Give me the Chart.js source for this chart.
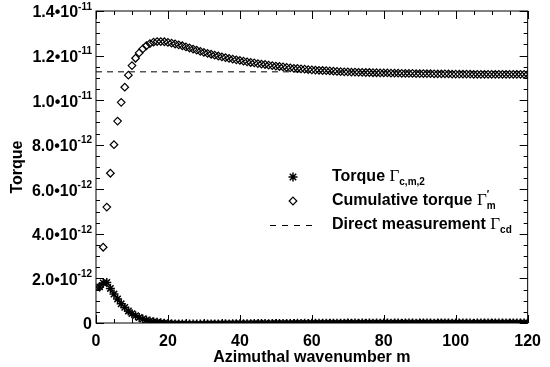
<!DOCTYPE html>
<html>
<head>
<meta charset="utf-8">
<script src="https://cdn.jsdelivr.net/npm/chart.js@4.4.1/dist/chart.umd.min.js"></script>
<style>
  body { margin: 0; background: #fff; }
  .chart-wrapper { width: 550px; height: 367px; }
</style>
</head>
<body>
<div class="chart-wrapper">
  <canvas id="chart" width="550" height="367"></canvas>
</div>
<script>
// values are in units of 1e-12, for m = 1 .. 120
const torque = [
  1.62, 1.80, 1.82, 1.55, 1.30, 1.08, 0.86, 0.70, 0.54, 0.42,
  0.33, 0.25, 0.18, 0.13, 0.09, 0.06, 0.03, 0.01, -0.01, -0.02,
  -0.03, -0.04, -0.04, -0.04, -0.05, -0.05, -0.05, -0.05, -0.05, -0.05,
  -0.04, -0.04, -0.04, -0.04, -0.04, -0.03, -0.04, -0.03, -0.03, -0.03,
  -0.03, -0.03, -0.03, -0.02, -0.03, -0.02, -0.02, -0.03, -0.02, -0.02,
  -0.02, -0.02, -0.02, -0.02, -0.02, -0.01, -0.02, -0.01, -0.02, -0.01,
  -0.01, -0.01, -0.01, -0.01, -0.01, -0.01, -0.01, -0.01, -0.01, 0.00,
  -0.01, 0.00, -0.01, 0.00, -0.01, 0.00, -0.01, 0.00, -0.01, 0.00,
  0.00, -0.01, 0.00, 0.00, -0.01, 0.00, 0.00, 0.00, -0.01, 0.00,
  0.00, 0.00, 0.00, -0.01, 0.00, 0.00, 0.00, 0.00, -0.01, 0.00,
  0.00, 0.00, 0.00, 0.00, -0.01, 0.00, 0.00, 0.00, 0.00, 0.00,
  0.00, 0.00, 0.00, 0.00, 0.00, 0.00, 0.00, 0.00, 0.00, 0.00
];
const cumulative = [
  1.62, 3.40, 5.20, 6.72, 8.00, 9.06, 9.90, 10.58, 11.12, 11.55,
  11.88, 12.12, 12.30, 12.44, 12.54, 12.60, 12.63, 12.63, 12.62, 12.59,
  12.56, 12.52, 12.48, 12.44, 12.39, 12.34, 12.29, 12.24, 12.19, 12.14,
  12.10, 12.06, 12.02, 11.98, 11.94, 11.91, 11.87, 11.84, 11.81, 11.78,
  11.75, 11.72, 11.69, 11.67, 11.64, 11.62, 11.60, 11.57, 11.55, 11.53,
  11.51, 11.49, 11.47, 11.45, 11.43, 11.42, 11.40, 11.39, 11.37, 11.36,
  11.35, 11.34, 11.33, 11.32, 11.31, 11.30, 11.29, 11.28, 11.27, 11.27,
  11.26, 11.26, 11.25, 11.25, 11.24, 11.24, 11.23, 11.23, 11.22, 11.22,
  11.22, 11.21, 11.21, 11.21, 11.20, 11.20, 11.20, 11.20, 11.19, 11.19,
  11.19, 11.19, 11.19, 11.18, 11.18, 11.18, 11.18, 11.18, 11.17, 11.17,
  11.17, 11.17, 11.17, 11.17, 11.16, 11.16, 11.16, 11.16, 11.16, 11.16,
  11.16, 11.16, 11.16, 11.16, 11.16, 11.16, 11.16, 11.16, 11.16, 11.16
];
const directMeasurement = 11.27;
const mRange = [0, 120];

const yTickValues = [0, 2, 4, 6, 8, 10, 12, 14];
const yTickMantissa = ['0', '2.0\u202210', '4.0\u202210', '6.0\u202210', '8.0\u202210', '1.0\u202210', '1.2\u202210', '1.4\u202210'];
const yTickExponent = ['', '-12', '-12', '-12', '-12', '-11', '-11', '-11'];

const wavenumbers = torque.map((_, i) => i + 1);

const SANS = '"Liberation Sans", Arial, sans-serif';
const SERIF = '"Liberation Serif", "Times New Roman", serif';

// draws text made of pieces with different fonts / baseline shifts
function drawRich(ctx, x, y, parts) {
  let cx = x;
  parts.forEach((p) => {
    ctx.font = p.font;
    ctx.fillText(p.text, cx, y + (p.dy || 0));
    if (!p.noAdvance) cx += ctx.measureText(p.text).width;
  });
}

const frameAndTicks = {
  id: 'frameAndTicks',
  afterDatasetsDraw(chart) {
    const { ctx, chartArea: a, scales } = chart;
    const xs = scales.x, ys = scales.y;
    ctx.save();
    ctx.strokeStyle = '#000';
    ctx.lineWidth = 1;
    ctx.strokeRect(a.left, a.top, a.right - a.left, a.bottom - a.top);
    ctx.beginPath();
    for (let v = 0; v <= 14.001; v += 0.5) {
      const py = Math.round(ys.getPixelForValue(v)) + 0.5;
      const len = Math.abs(v / 2 - Math.round(v / 2)) < 1e-6 ? 8 : 4;
      ctx.moveTo(a.left, py); ctx.lineTo(a.left + len, py);
      ctx.moveTo(a.right, py); ctx.lineTo(a.right - len, py);
    }
    for (let v = 0; v <= 120; v += 5) {
      const px = Math.round(xs.getPixelForValue(v)) + 0.5;
      const len = v % 20 === 0 ? 8 : 4;
      ctx.moveTo(px, a.bottom); ctx.lineTo(px, a.bottom - len);
      ctx.moveTo(px, a.top); ctx.lineTo(px, a.top + len);
    }
    ctx.stroke();

    // y tick labels with exponents
    ctx.fillStyle = '#000';
    ctx.textBaseline = 'middle';
    yTickValues.forEach((v, i) => {
      const py = ys.getPixelForValue(v);
      const exp = yTickExponent[i];
      ctx.font = 'bold 10px ' + SANS;
      const ew = exp ? ctx.measureText(exp).width : 0;
      ctx.font = 'bold 16px ' + SANS;
      const mw = ctx.measureText(yTickMantissa[i]).width;
      const right = a.left - 4;
      ctx.textAlign = 'left';
      ctx.fillText(yTickMantissa[i], right - ew - mw, py + 2);
      if (exp) {
        ctx.font = 'bold 10px ' + SANS;
        ctx.fillText(exp, right - ew, py - 4);
      }
    });
    ctx.restore();
  }
};

const legendBox = {
  id: 'legendBox',
  afterDraw(chart) {
    const { ctx } = chart;
    const sx = 293, tx = 332;
    const rows = [177, 201, 225];
    ctx.save();
    ctx.strokeStyle = '#000';
    ctx.lineWidth = 1.5;
    ctx.fillStyle = '#000';
    Chart.helpers.drawPoint(ctx, { pointStyle: 'star', radius: 4.5, borderWidth: 1.5 }, sx, rows[0]);
    ctx.lineWidth = 1.2;
    ctx.fillStyle = 'rgba(0,0,0,0)';
    Chart.helpers.drawPoint(ctx, { pointStyle: 'rectRot', radius: 3.8, borderWidth: 1.2 }, sx, rows[1]);
    ctx.lineWidth = 1;
    ctx.setLineDash([6, 6]);
    ctx.beginPath();
    ctx.moveTo(270, rows[2] + 0.5); ctx.lineTo(316, rows[2] + 0.5);
    ctx.stroke();
    ctx.setLineDash([]);

    ctx.fillStyle = '#000';
    ctx.textAlign = 'left';
    ctx.textBaseline = 'middle';
    const b = 'bold 16px ' + SANS, g = '17px ' + SERIF, s = 'bold 10px ' + SANS;
    drawRich(ctx, tx, rows[0], [
      { text: 'Torque ', font: b },
      { text: '\u0393', font: g },
      { text: 'c,m,2', font: s, dy: 5 }
    ]);
    drawRich(ctx, tx, rows[1], [
      { text: 'Cumulative torque ', font: b },
      { text: '\u0393', font: g },
      { text: '\u2032', font: s, dy: -6, noAdvance: true },
      { text: 'm', font: s, dy: 5 }
    ]);
    drawRich(ctx, tx, rows[2], [
      { text: 'Direct measurement ', font: b },
      { text: '\u0393', font: g },
      { text: 'cd', font: s, dy: 5 }
    ]);
    ctx.restore();
  }
};

const ctx = document.getElementById('chart').getContext('2d');
new Chart(ctx, {
  type: 'scatter',
  data: {
    datasets: [
      {
        label: 'Direct measurement',
        type: 'line',
        data: mRange.map((m) => ({ x: m, y: directMeasurement })),
        borderColor: '#000',
        borderWidth: 1,
        borderDash: [6, 5],
        pointRadius: 0,
        order: 3
      },
      {
        label: 'Cumulative torque',
        data: wavenumbers.map((m, i) => ({ x: m, y: cumulative[i] })),
        pointStyle: 'rectRot',
        pointRadius: 3.8,
        pointBorderWidth: 1.2,
        pointBorderColor: '#000',
        pointBackgroundColor: 'rgba(0,0,0,0)',
        order: 2
      },
      {
        label: 'Torque',
        data: wavenumbers.map((m, i) => ({ x: m, y: torque[i] })),
        pointStyle: 'star',
        pointRadius: 4.5,
        pointBorderWidth: 1.5,
        pointBorderColor: '#000',
        pointBackgroundColor: '#000',
        order: 1
      }
    ]
  },
  options: {
    responsive: false,
    animation: false,
    events: [],
    layout: { padding: { top: 11, right: 12, left: 0, bottom: 0 } },
    plugins: { legend: { display: false }, tooltip: { enabled: false } },
    scales: {
      x: {
        type: 'linear',
        min: 0,
        max: 120,
        grid: { display: false, drawTicks: false },
        border: { display: false },
        ticks: {
          stepSize: 20,
          padding: 9,
          color: '#000',
          font: { family: SANS, size: 16, weight: 'bold' },
          maxRotation: 0
        },
        title: {
          display: true,
          text: 'Azimuthal wavenumber m',
          color: '#000',
          font: { family: SANS, size: 16, weight: 'bold' },
          padding: { top: 0, bottom: 0 }
        },
        afterFit(scale) { scale.height = 44; }
      },
      y: {
        min: 0,
        max: 14,
        grid: { display: false, drawTicks: false },
        border: { display: false },
        ticks: { display: false },
        title: {
          display: true,
          text: 'Torque',
          color: '#000',
          font: { family: SANS, size: 16, weight: 'bold' },
          padding: { top: 8, bottom: 0 }
        },
        afterFit(scale) { scale.width = 96; }
      }
    }
  },
  plugins: [frameAndTicks, legendBox]
});
</script>
</body>
</html>
